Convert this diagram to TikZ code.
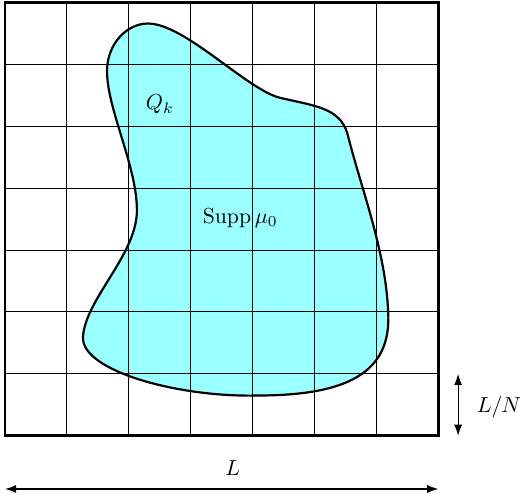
\documentclass[tikz,border=0pt]{standalone}
\usetikzlibrary{arrows.meta}
\definecolor{blobfill}{RGB}{153,255,255}
\begin{document}
\begin{tikzpicture}[x=1cm,y=1cm,
  gridline/.style={line width=0.45pt},
  frame/.style={line width=1.2pt},
  blobline/.style={line width=1pt},
  dimarrow/.style={line width=0.5pt,{Latex[length=1.8mm,width=1.3mm]}-{Latex[length=1.8mm,width=1.3mm]}}]
\useasboundingbox (-0.081,-0.985) rectangle (8.32,7.04);
\def\blobpath{(2.31,6.66) .. controls (1.95,6.66) and (1.62,6.3) .. (1.65,5.83)
  .. controls (1.68,5.2) and (2.15,4.3) .. (2.13,3.6)
  .. controls (2.1,2.9) and (1.3,2.2) .. (1.26,1.6)
  .. controls (1.22,1.05) and (2.8,0.62) .. (4.07,0.65)
  .. controls (5.5,0.65) and (6.25,1.0) .. (6.19,2.0)
  .. controls (6.15,3.0) and (5.75,4.0) .. (5.53,4.89)
  .. controls (5.4,5.3) and (5.0,5.33) .. (4.44,5.46)
  .. controls (3.9,5.6) and (2.9,6.66) .. (2.31,6.66) -- cycle}
\fill[blobfill] \blobpath;
\foreach \i in {1,...,6} {
  \draw[gridline] (\i,0) -- (\i,7);
  \draw[gridline] (0,\i) -- (7,\i);
}
\draw[blobline] \blobpath;
\draw[frame] (0,0) rectangle (7,7);
\node (qk) at (2.5,5.35) {$Q_k$};
\node (supp) at (3.8,3.52) {$\mathop{\mathrm{Supp}}\mu_0$};
\coordinate (vt) at (7.32,1);
\coordinate (vb) at (7.32,0);
\draw[dimarrow] (vt) -- (vb);
\node[anchor=west] (ln) at (7.5,0.46) {$L/N$};
\coordinate (hl) at (0,-0.86);
\coordinate (hr) at (7,-0.86);
\draw[dimarrow] (hl) -- (hr);
\node (l) at (3.68,-0.53) {$L$};
\end{tikzpicture}
\end{document}
